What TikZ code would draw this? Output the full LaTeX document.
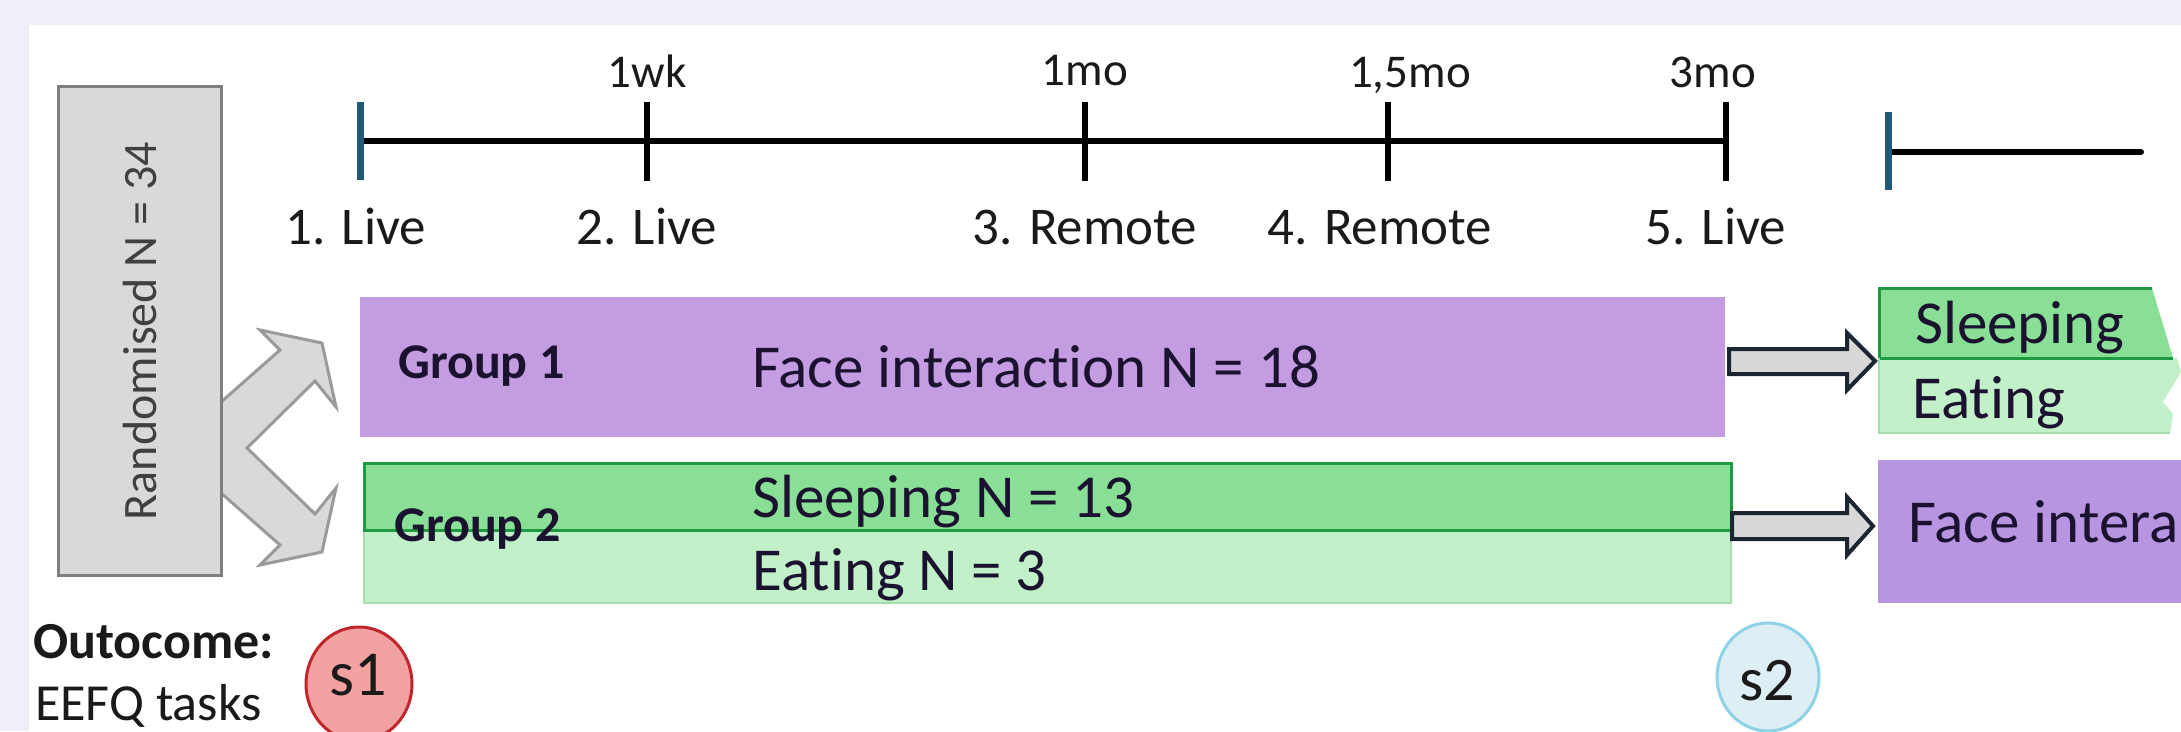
\documentclass[tikz,border=0pt]{standalone}
\usepackage{fontspec}
\setmainfont{Carlito}[Ligatures=NoCommon]
\usetikzlibrary{shapes.geometric}
\definecolor{bgout}{HTML}{F0EEF6}
\definecolor{randfill}{HTML}{D9D9D9}
\definecolor{randdraw}{HTML}{7F7F7F}
\definecolor{chevdraw}{HTML}{9A9A9A}
\definecolor{ticktl}{HTML}{1F5A78}
\definecolor{grpA}{HTML}{C49CE1}
\definecolor{grpB}{HTML}{B895E0}
\definecolor{dgr}{HTML}{88DF95}
\definecolor{dgrline}{HTML}{1E9B40}
\definecolor{lgr}{HTML}{C2F0C8}
\definecolor{lgrline}{HTML}{A6DDAE}
\definecolor{arrfill}{HTML}{D8D8D8}
\definecolor{arrdraw}{HTML}{1C2633}
\definecolor{sonefill}{HTML}{F3A2A2}
\definecolor{sonedraw}{HTML}{C0262C}
\definecolor{stwofill}{HTML}{DDEEF5}
\definecolor{stwodraw}{HTML}{8ED2E8}
\definecolor{ink}{HTML}{1A1A1A}
\definecolor{navyink}{HTML}{1B1230}
\definecolor{randink}{HTML}{404040}
\begin{document}
\begin{tikzpicture}[x=1pt,y=-1pt,
  tline/.style={line width=6pt, black},
  tickmark/.style={line width=6pt, black},
  tickfirst/.style={line width=7pt, ticktl},
  lbl/.style={inner sep=0pt, anchor=base, text=ink, font=\fontsize{53}{60}\selectfont},
  toplbl/.style={inner sep=0pt, anchor=base, text=ink, font=\fontsize{47}{54}\selectfont},
  grptxt/.style={inner sep=0pt, anchor=base west, text=navyink, font=\fontsize{50}{58}\selectfont\bfseries},
  bigtxt/.style={inner sep=0pt, anchor=base west, text=navyink, font=\fontsize{61}{70}\selectfont},
  blockarrow/.style={fill=arrfill, draw=arrdraw, line width=4pt, line join=miter},
  boxnode/.style={inner sep=0pt, outer sep=0pt, anchor=north west}
]
\path[use as bounding box] (0,0) rectangle (2181,731);
\fill[bgout] (0,0) rectangle (2181,731);
\fill[white] (29,25) rectangle (2181,731);

% timeline 1
\coordinate (t0) at (360,141);
\coordinate (t5) at (1726,141);
\draw[tline] (t0) -- (t5);
\foreach \xx in {647,1085,1388,1726} {\draw[tickmark] (\xx,102) -- (\xx,181);}
\draw[tickfirst] (360,102) -- (360,180);
\node[toplbl] (w1) at (647,87) {1wk};
\node[toplbl] (m1) at (1085,85) {1mo};
\node[toplbl] (m15) at (1410,87) {1,5mo};
\node[toplbl] (m3) at (1713,87) {3mo};
\node[lbl] (v1) at (356,244) {1. Live};
\node[lbl] (v2) at (647,244) {2. Live};
\node[lbl] (v3) at (1085,244) {3. Remote};
\node[lbl] (v4) at (1380,244) {4. Remote};
\node[lbl] (v5) at (1716,244) {5. Live};

% timeline 2
\coordinate (u0) at (1888,152);
\coordinate (u1) at (2141,152);
\draw[tline, line cap=round] (u0) -- (u1);
\draw[tickfirst] (1888,112) -- (1888,190);

% chevron double arrow
\draw[fill=randfill, draw=chevdraw, line width=3pt, line join=miter]
  (212,410) -- (280,350) -- (260,330) -- (322,343) -- (336,407) -- (315,381)
  -- (247,448) -- (315,514) -- (336,488) -- (322,552) -- (260,565) -- (280,545)
  -- (212,485) -- cycle;

% randomised box
\node[boxnode, fill=randfill, draw=randdraw, line width=3pt, minimum width=163pt, minimum height=489pt] (rand) at (58,86) {};
\node[rotate=90, inner sep=0pt, text=randink, font=\fontsize{48}{56}\selectfont] (randtxt) at (140,331) {Randomised N = 34};

% group boxes
\node[boxnode, fill=grpA, minimum width=1365pt, minimum height=140pt] (g1) at (360,297) {};
\node[boxnode, fill=lgr, draw=lgrline, line width=2pt, minimum width=1367pt, minimum height=73pt] (g2b) at (364,530) {};
\node[boxnode, fill=dgr, draw=dgrline, line width=3pt, minimum width=1367pt, minimum height=67pt] (g2a) at (364,463) {};

\node[grptxt] (g1t) at (398,378) {Group 1};
\node[bigtxt] (g1f) at (752,387) {Face interaction N = 18};
\node[grptxt] (g2t) at (394,541) {Group 2};
\node[bigtxt] (g2s) at (752,517) {Sleeping N = 13};
\node[bigtxt] (g2e) at (752,590) {Eating N = 3};

% right boxes
\fill[dgr] (1879,288) -- (2152,288) -- (2173,358) -- (1879,358) -- cycle;
\fill[lgr] (1879,358) -- (2177,358) -- (2181,372) -- (2163,402) -- (2173,414) -- (2170,433) -- (1879,433) -- cycle;
\draw[dgrline, line width=3pt] (2152,288) -- (1879,288) -- (1879,358) -- (2173,358);
\draw[lgrline, line width=2pt] (1879,358) -- (1879,433) -- (2170,433);
\fill[grpB] (1878,460) rectangle (2181,603);
\node[bigtxt] (rs) at (1915,343) {Sleeping};
\node[bigtxt] (re) at (1912,418) {Eating};
\node[bigtxt] (rf) at (1908,542) {Face intera};

% block arrows
\draw[blockarrow] (1729,349) -- (1847,349) -- (1847,333) -- (1875,361) -- (1847,390) -- (1847,374) -- (1729,374) -- cycle;
\draw[blockarrow] (1732,513) -- (1847,513) -- (1847,497) -- (1873,526) -- (1847,555) -- (1847,539) -- (1732,539) -- cycle;

% outcome
\node[inner sep=0pt, anchor=base west, text=ink, font=\fontsize{52}{60}\selectfont\bfseries] (oc) at (33,658) {Outocome:};
\node[inner sep=0pt, anchor=base west, text=ink, font=\fontsize{52}{60}\selectfont] (eefq) at (35,720) {EEFQ tasks};

\node[ellipse, fill=sonefill, draw=sonedraw, line width=3pt, minimum width=106pt, minimum height=114pt, inner sep=0pt] (s1) at (359,684) {};
\node[inner sep=0pt, text=ink, font=\fontsize{64}{72}\selectfont] (s1t) at (358,675) {s1};
\node[ellipse, fill=stwofill, draw=stwodraw, line width=3pt, minimum width=102pt, minimum height=108pt, inner sep=0pt] (s2) at (1768,677) {};
\node[inner sep=0pt, text=ink, font=\fontsize{62}{70}\selectfont] (s2t) at (1767,681) {s2};
\end{tikzpicture}
\end{document}
